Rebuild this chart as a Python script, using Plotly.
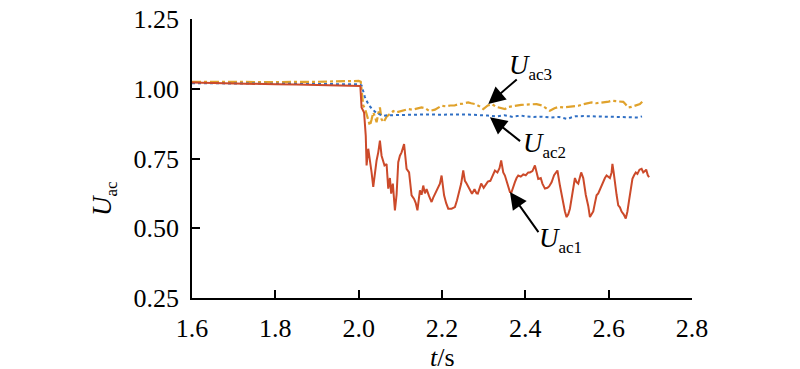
import plotly.graph_objects as go

# ---- data ----
t1 = [1.600, 1.650, 1.700, 1.750, 1.800, 1.850, 1.900, 1.950, 2.000, 2.004, 2.007, 2.013, 2.017, 2.019,
      2.023, 2.027, 2.031, 2.035, 2.039, 2.043, 2.047, 2.051, 2.055, 2.059, 2.062, 2.067, 2.071, 2.075,
      2.078, 2.082, 2.087, 2.091, 2.095, 2.099, 2.103, 2.109, 2.115, 2.121, 2.124, 2.127, 2.133, 2.137,
      2.141, 2.147, 2.151, 2.155, 2.159, 2.163, 2.169, 2.175, 2.179, 2.185, 2.191, 2.195, 2.199, 2.205,
      2.210, 2.215, 2.223, 2.231, 2.236, 2.241, 2.246, 2.251, 2.255, 2.259, 2.265, 2.272, 2.278, 2.283,
      2.286, 2.290, 2.294, 2.300, 2.306, 2.310, 2.316, 2.322, 2.327, 2.333, 2.338, 2.342, 2.347, 2.351,
      2.355, 2.359, 2.363, 2.367, 2.371, 2.375, 2.379, 2.383, 2.389, 2.395, 2.401, 2.407, 2.411, 2.417,
      2.423, 2.427, 2.431, 2.437, 2.441, 2.447, 2.453, 2.457, 2.463, 2.469, 2.473, 2.477, 2.483, 2.487,
      2.491, 2.495, 2.499, 2.503, 2.507, 2.511, 2.515, 2.519, 2.523, 2.527, 2.534, 2.539, 2.545, 2.551,
      2.555, 2.559, 2.563, 2.567, 2.571, 2.575, 2.579, 2.583, 2.587, 2.591, 2.595, 2.599, 2.603, 2.607,
      2.609, 2.612, 2.615, 2.619, 2.623, 2.627, 2.631, 2.636, 2.641, 2.645, 2.649, 2.653, 2.657, 2.661,
      2.665, 2.669, 2.674, 2.679, 2.683, 2.687, 2.690, 2.694, 2.697]
u1 = [1.022, 1.020, 1.019, 1.018, 1.016, 1.015, 1.013, 1.012, 1.010, 1.010, 0.933, 0.915, 0.832, 0.725,
      0.785, 0.749, 0.700, 0.648, 0.700, 0.743, 0.772, 0.814, 0.760, 0.735, 0.725, 0.730, 0.642, 0.680,
      0.624, 0.660, 0.564, 0.620, 0.737, 0.760, 0.772, 0.802, 0.713, 0.700, 0.660, 0.618, 0.605, 0.590,
      0.564, 0.636, 0.620, 0.653, 0.625, 0.640, 0.615, 0.594, 0.610, 0.630, 0.650, 0.660, 0.689, 0.618,
      0.590, 0.570, 0.570, 0.576, 0.600, 0.630, 0.660, 0.707, 0.670, 0.660, 0.645, 0.624, 0.640, 0.625,
      0.624, 0.640, 0.660, 0.645, 0.660, 0.667, 0.670, 0.690, 0.707, 0.700, 0.715, 0.743, 0.700, 0.689,
      0.670, 0.642, 0.630, 0.630, 0.650, 0.665, 0.680, 0.689, 0.685, 0.693, 0.690, 0.700, 0.700, 0.705,
      0.725, 0.700, 0.677, 0.680, 0.660, 0.642, 0.645, 0.650, 0.665, 0.690, 0.700, 0.707, 0.653, 0.620,
      0.594, 0.560, 0.540, 0.550, 0.570, 0.610, 0.653, 0.680, 0.665, 0.660, 0.700, 0.680, 0.620, 0.580,
      0.540, 0.550, 0.560, 0.590, 0.618, 0.625, 0.640, 0.650, 0.665, 0.680, 0.689, 0.685, 0.680, 0.700,
      0.731, 0.700, 0.660, 0.620, 0.582, 0.575, 0.560, 0.550, 0.535, 0.560, 0.600, 0.640, 0.677, 0.690,
      0.700, 0.695, 0.710, 0.713, 0.700, 0.705, 0.710, 0.690, 0.683]

t2 = [1.60, 1.70, 1.80, 1.90, 2.00, 2.007, 2.011, 2.015, 2.019, 2.025, 2.031, 2.039, 2.047, 2.053, 2.059,
      2.07, 2.09, 2.11, 2.13, 2.15, 2.17, 2.19, 2.21, 2.23, 2.25, 2.27, 2.29, 2.31, 2.33, 2.34, 2.35, 2.36,
      2.37, 2.38, 2.39, 2.40, 2.42, 2.44, 2.46, 2.48, 2.49, 2.50, 2.51, 2.52, 2.54, 2.56, 2.58, 2.60, 2.62,
      2.64, 2.66, 2.67, 2.68]
u2 = [1.020, 1.019, 1.018, 1.017, 1.016, 1.012, 0.987, 0.970, 0.957, 0.940, 0.930, 0.918, 0.910, 0.905, 0.903,
      0.905, 0.906, 0.907, 0.906, 0.907, 0.908, 0.907, 0.908, 0.907, 0.908, 0.907, 0.906, 0.904, 0.901, 0.903,
      0.905, 0.902, 0.899, 0.902, 0.904, 0.901, 0.899, 0.900, 0.897, 0.899, 0.896, 0.892, 0.897, 0.901, 0.902,
      0.901, 0.902, 0.901, 0.900, 0.899, 0.898, 0.897, 0.901]

t3 = [1.60, 1.70, 1.80, 1.90, 1.95, 2.00, 2.005, 2.009, 2.011, 2.015, 2.019, 2.023, 2.027, 2.031, 2.035, 2.039,
      2.043, 2.047, 2.051, 2.055, 2.06, 2.067, 2.075, 2.083, 2.09, 2.10, 2.11, 2.119, 2.13, 2.14, 2.151, 2.16,
      2.17, 2.183, 2.19, 2.199, 2.21, 2.22, 2.23, 2.24, 2.25, 2.263, 2.27, 2.28, 2.29, 2.299, 2.31, 2.32, 2.33,
      2.34, 2.351, 2.36, 2.375, 2.39, 2.41, 2.427, 2.44, 2.45, 2.459, 2.47, 2.48, 2.491, 2.50, 2.51, 2.527,
      2.54, 2.559, 2.57, 2.587, 2.60, 2.607, 2.62, 2.635, 2.64, 2.647, 2.655, 2.665, 2.675, 2.683]
u3 = [1.025, 1.024, 1.024, 1.025, 1.027, 1.028, 1.025, 0.970, 0.940, 0.930, 0.910, 0.892, 0.868, 0.890, 0.915, 0.900,
      0.880, 0.910, 0.933, 0.890, 0.880, 0.900, 0.910, 0.920, 0.915, 0.920, 0.925, 0.927, 0.925, 0.930, 0.933, 0.930,
      0.920, 0.925, 0.930, 0.939, 0.937, 0.940, 0.940, 0.945, 0.947, 0.951, 0.948, 0.945, 0.937, 0.927, 0.940, 0.945, 0.935,
      0.930, 0.927, 0.935, 0.939, 0.942, 0.944, 0.945, 0.940, 0.930, 0.921, 0.930, 0.935, 0.933, 0.935, 0.937, 0.939,
      0.945, 0.951, 0.948, 0.950, 0.954, 0.957, 0.955, 0.953, 0.945, 0.933, 0.935, 0.940, 0.945, 0.957]

x_ticks = [1.6, 1.8, 2.0, 2.2, 2.4, 2.6, 2.8]
y_ticks = [0.25, 0.50, 0.75, 1.00, 1.25]

FONT = "Liberation Serif"
RED, ORANGE, BLUE = "#cc4a2a", "#e0a22c", "#2f6fc4"

fig = go.Figure()
fig.add_trace(go.Scatter(x=t3, y=u3, mode="lines", line=dict(color=ORANGE, width=2.2, dash="dashdot"), name="Uac3"))
fig.add_trace(go.Scatter(x=t2, y=u2, mode="lines", line=dict(color=BLUE, width=2, dash="dot"), name="Uac2"))
fig.add_trace(go.Scatter(x=t1, y=u1, mode="lines", line=dict(color=RED, width=2), name="Uac1"))

axis_common = dict(showline=True, linecolor="black", linewidth=1.5, ticks="inside", ticklen=8,
                   tickcolor="black", tickwidth=1.5, showgrid=False, zeroline=False, automargin=False,
                   tickfont=dict(family=FONT, size=26, color="black"), mirror=False)

fig.update_xaxes(range=[1.6, 2.8], tickvals=x_ticks, ticktext=[f"{v:.1f}" for v in x_ticks],
                 ticklabelstandoff=6, **axis_common)
fig.update_yaxes(range=[0.25, 1.25], tickvals=y_ticks, ticktext=[f"{v:.2f}" for v in y_ticks],
                 ticklabelstandoff=6, **axis_common)

anns = []
# arrows (head at x,y ; tail at ax,ay in data coords)
arrows = [((2.311, 0.945), (2.383, 1.038)),
          ((2.315, 0.898), (2.391, 0.808)),
          ((2.363, 0.630), (2.434, 0.481))]
for (hx, hy), (tx, ty) in arrows:
    anns.append(dict(x=hx, y=hy, ax=tx, ay=ty, axref="x", ayref="y", xref="x", yref="y",
                     text="", showarrow=True, arrowhead=2, arrowsize=1.7, arrowwidth=2,
                     arrowcolor="black", standoff=0, startstandoff=0))
sub = "<sub><span style='font-size:17px'>{}</span></sub>"
labels = [(2.355, 1.078, "ac3"), (2.389, 0.797, "ac2"), (2.428, 0.457, "ac1")]
for lx, ly, s in labels:
    anns.append(dict(x=lx, y=ly, xref="x", yref="y", xanchor="left", yanchor="middle",
                     text="<i>U</i>" + sub.format(s), showarrow=False,
                     font=dict(family=FONT, size=27, color="black")))
# axis titles
anns.append(dict(x=-0.176, y=0.355, xref="paper", yref="paper", xanchor="center", yanchor="middle",
                 text="<i>U</i>" + sub.format("ac"), textangle=-90, showarrow=False,
                 font=dict(family=FONT, size=27, color="black")))
anns.append(dict(x=0.5, y=-0.215, xref="paper", yref="paper", xanchor="center", yanchor="middle",
                 text="<i>t</i>/s", showarrow=False,
                 font=dict(family=FONT, size=26, color="black")))

fig.update_layout(width=800, height=369, margin=dict(l=192, r=108, t=19, b=71),
                  plot_bgcolor="white", paper_bgcolor="white", showlegend=False,
                  annotations=anns)

fig.write_html("out.html", config={"displayModeBar": False},
               post_script="document.body.style.margin='0';document.body.style.overflow='hidden';")
